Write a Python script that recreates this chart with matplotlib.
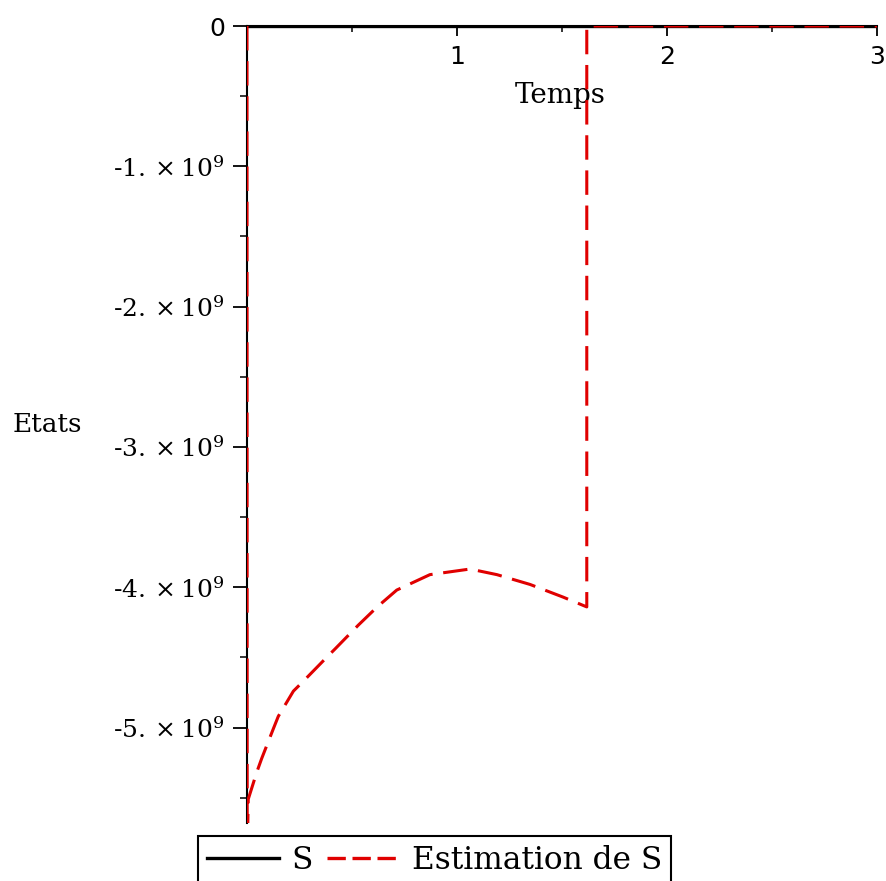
import matplotlib
matplotlib.use('Agg')
import matplotlib.pyplot as plt
from matplotlib.ticker import MultipleLocator, FuncFormatter
from matplotlib.lines import Line2D

# Data
temps_S = [0.0, 3.0]
etat_S = [0.0, 0.0]

temps_est = [0.0, 0.001, 0.006, 0.046, 0.07, 0.125, 0.149, 0.221, 0.268, 0.379,
             0.419, 0.53, 0.62, 0.713, 0.871, 1.062, 1.19, 1.348, 1.505, 1.618,
             1.618, 3.0]
etat_est = [0.0, -5.9e9, -5.51e9, -5.32e9, -5.22e9, -5.01e9, -4.92e9, -4.74e9,
            -4.67e9, -4.50e9, -4.44e9, -4.27e9, -4.14e9, -4.02e9, -3.91e9,
            -3.87e9, -3.91e9, -3.98e9, -4.07e9, -4.14e9, 0.0, 0.0]

y_ticks = [0, -1e9, -2e9, -3e9, -4e9, -5e9]
x_ticks = [1, 2, 3]

red = '#e00000'

plt.rcParams['mathtext.fontset'] = 'dejavuserif'

fig = plt.figure(figsize=(8.86, 8.81), dpi=100)
ax = fig.add_axes([247/886, 1 - 823/881, 630/886, 797/881])

ax.plot(temps_S, etat_S, color='black', linewidth=2.4, solid_capstyle='butt', zorder=3)
ax.plot(temps_est, etat_est, color=red, linewidth=2.2, linestyle=(0, (8, 3.5)), zorder=4)

ax.set_xlim(0, 3)
ax.set_ylim(-5.68e9, 0)

# Maple style axes: x-axis drawn at y=0 (top), y-axis at t=0
ax.spines['top'].set_visible(False)
ax.spines['right'].set_visible(False)
ax.spines['bottom'].set_position(('data', 0))
ax.spines['bottom'].set_linewidth(1.5)
ax.spines['left'].set_linewidth(1.5)

ax.set_xticks(x_ticks)
ax.xaxis.set_minor_locator(MultipleLocator(0.5))
ax.set_yticks(y_ticks)
ax.yaxis.set_minor_locator(MultipleLocator(0.5e9))


def fmt_y(v, pos):
    if v == 0:
        return '0'
    return r'$\text{-}%d.\times 10^{9}$' % round(-v / 1e9)


ax.yaxis.set_major_formatter(FuncFormatter(fmt_y))
ax.tick_params(axis='x', which='major', direction='out', length=7, width=1.3,
               labelsize=18, pad=7)
ax.tick_params(axis='x', which='minor', direction='out', length=4, width=1.1)
ax.tick_params(axis='y', which='major', direction='out', length=10, width=1.3,
               labelsize=18, pad=6)
ax.tick_params(axis='y', which='minor', direction='out', length=5, width=1.1)
for lab in ax.get_xticklabels() + ax.get_yticklabels():
    lab.set_family('DejaVu Sans')

ax.set_xlabel('Temps', family='DejaVu Serif', fontsize=20)
ax.xaxis.set_label_coords(0.497, 0.913)
ax.xaxis.label.set_va('center')
ax.set_ylabel('Etats', family='DejaVu Serif', fontsize=19, rotation=0)
ax.yaxis.set_label_coords(-0.317, 0.5)
ax.yaxis.label.set_va('center')
ax.yaxis.label.set_ha('center')

handles = [Line2D([], [], color='black', linewidth=2.4),
           Line2D([], [], color=red, linewidth=2.4, linestyle=(0, (5.5, 2)))]
leg = fig.legend(handles, ['S', 'Estimation de S'], loc='upper left',
                 bbox_to_anchor=(198/886, 1 - 836/881), ncol=2, frameon=True,
                 fancybox=False, edgecolor='black', framealpha=1,
                 prop={'family': 'DejaVu Serif', 'size': 22.5},
                 handlelength=2.3, handletextpad=0.4, columnspacing=0.45,
                 borderpad=0.3, borderaxespad=0)
leg.get_frame().set_linewidth(1.5)

fig.savefig('out.png', dpi=100)
